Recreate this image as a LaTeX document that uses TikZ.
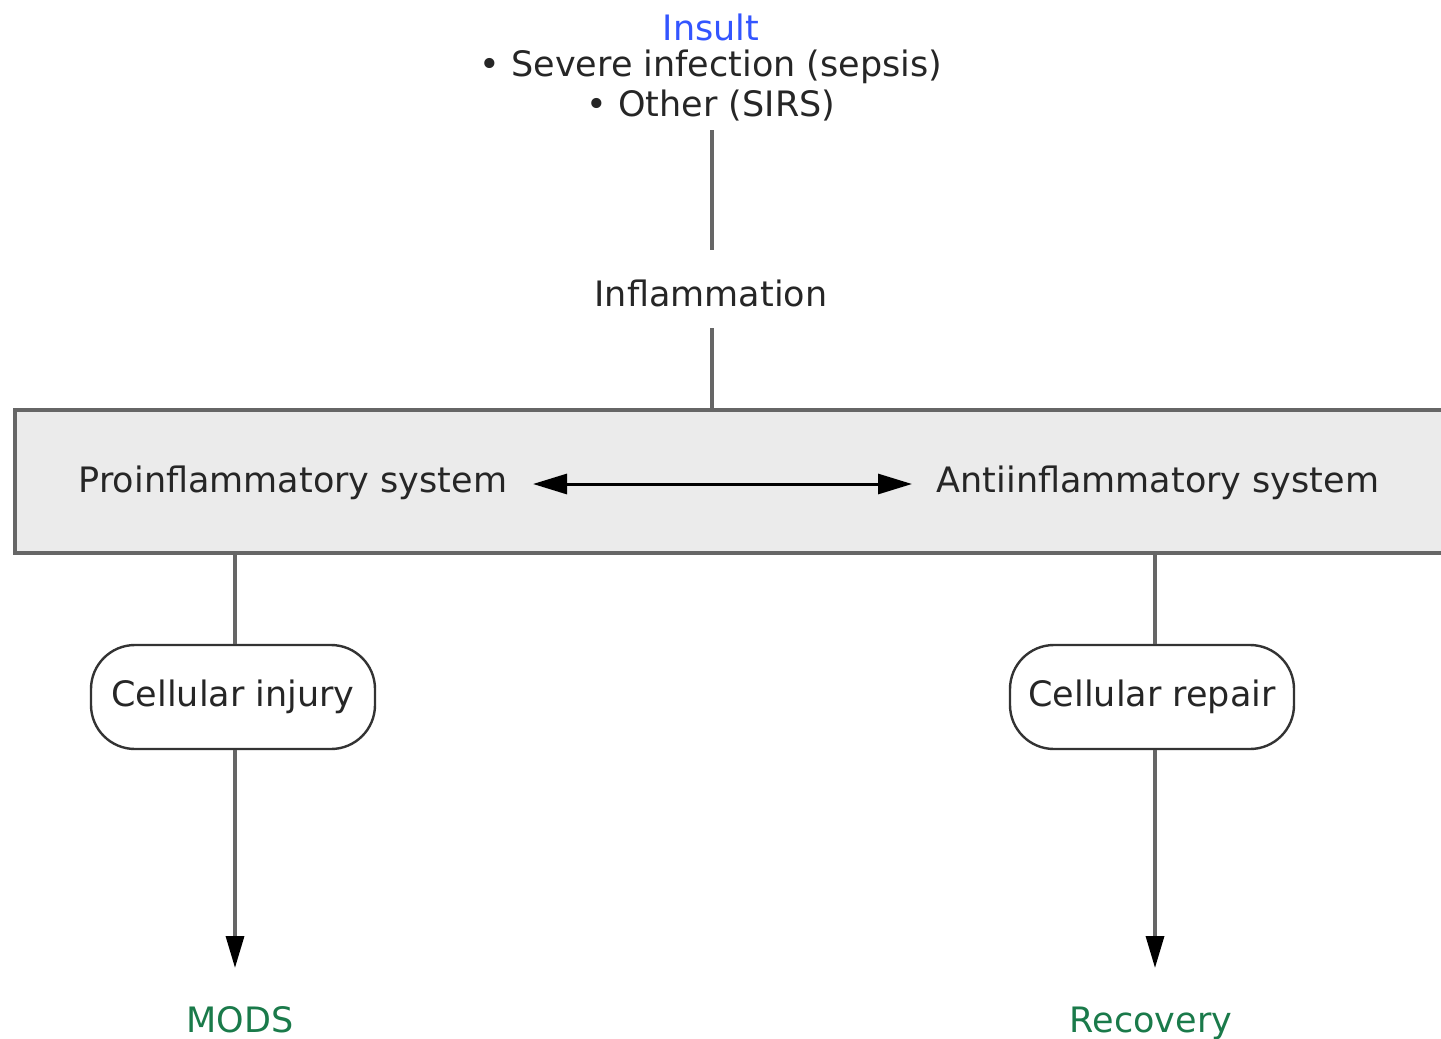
\documentclass[tikz,border=0pt]{standalone}
\usepackage{fontspec}
\setmainfont{DejaVu Sans}
\usetikzlibrary{arrows.meta}
\definecolor{linegray}{HTML}{666666}
\definecolor{boxgray}{HTML}{EBEBEB}
\definecolor{insultblue}{HTML}{3355FF}
\definecolor{outgreen}{HTML}{1A7A4A}
\begin{document}
\begin{tikzpicture}[x=0.5pt,y=-0.5pt,
  txt/.style={font=\fontsize{17.5}{20}\selectfont, inner sep=0pt, text=black!85},
  conn/.style={draw=linegray, line width=1.7pt},
  arr/.style={conn, -{Triangle[length=16pt,width=9pt,fill=black,color=black]}},
  roundbox/.style={draw=black!80, line width=1.2pt, rounded corners=22pt, minimum width=142pt, minimum height=52pt, inner sep=0pt, font=\fontsize{17.5}{20}\selectfont, text=black!85}]
\useasboundingbox (0,0) rectangle (1441,1039);
\node[txt, text=insultblue] (insult) at (711,27) {Insult};
\node[txt] (sev) at (711,67) {\textbullet\ Severe infection (sepsis)};
\node[txt] (oth) at (711,106) {\textbullet\ Other (SIRS)};
\coordinate (t1) at (712,130);
\coordinate (t2) at (712,250);
\draw[conn] (t1) -- (t2);
\node[txt] (infl) at (711,293) {Inflammation};
\coordinate (i1) at (712,328);
\coordinate (i2) at (712,410);
\draw[conn] (i1) -- (i2);
\path[fill=boxgray, draw=linegray, line width=1.8pt] (15,410) rectangle (1450,553);
\node[txt] (pro) at (293,483) {Proinflammatory system};
\node[txt] (anti) at (1158,483) {Antiinflammatory system};
\coordinate (a1) at (533,484);
\coordinate (a2) at (912,484);
\draw[line width=1.5pt, {Triangle[length=17pt,width=10pt]}-{Triangle[length=17pt,width=10pt]}] (a1) -- (a2);
\coordinate (l1) at (235,553);
\coordinate (r1) at (1155,553);
\node[roundbox] (inj) at (233,697) {Cellular injury};
\node[roundbox] (rep) at (1152,697) {Cellular repair};
\draw[conn] (l1) -- (inj.north -| l1);
\draw[conn] (r1) -- (rep.north -| r1);
\coordinate (l2) at (235,968);
\coordinate (r2) at (1155,968);
\draw[arr] (inj.south -| l2) -- (l2);
\draw[arr] (rep.south -| r2) -- (r2);
\node[txt, text=outgreen, anchor=base] (mods) at (240,1032) {MODS};
\node[txt, text=outgreen, anchor=base] (rec) at (1151,1032) {Recovery};
\end{tikzpicture}
\end{document}
